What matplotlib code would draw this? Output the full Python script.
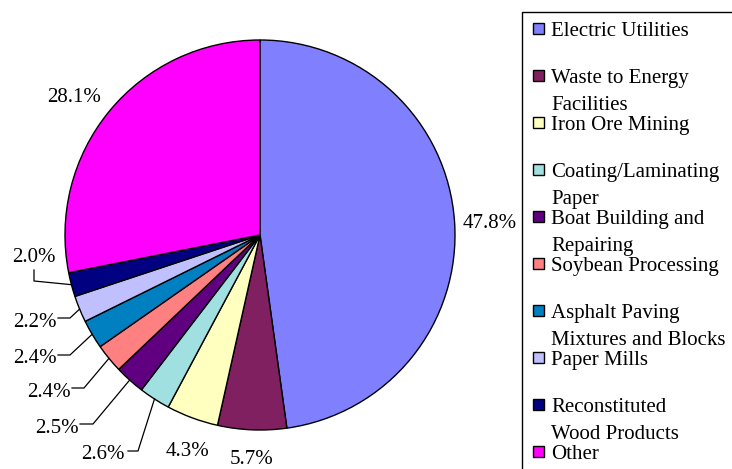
import numpy as np
import matplotlib
matplotlib.use("Agg")
import matplotlib.pyplot as plt
from matplotlib.patches import Rectangle

plt.rcParams['font.family'] = ['Liberation Serif', 'DejaVu Serif']

categories = ["Electric Utilities", "Waste to Energy\nFacilities", "Iron Ore Mining",
              "Coating/Laminating\nPaper", "Boat Building and\nRepairing",
              "Soybean Processing", "Asphalt Paving\nMixtures and Blocks",
              "Paper Mills", "Reconstituted\nWood Products", "Other"]
shares = [47.8, 5.7, 4.3, 2.6, 2.5, 2.4, 2.4, 2.2, 2.0, 28.1]
colors = ["#8080FF", "#802060", "#FFFFC0", "#A0E0E0", "#600080",
          "#FF8080", "#0080C0", "#C0C0FF", "#000080", "#FF00FF"]

W, H = 732, 469
fig = plt.figure(figsize=(W / 100, H / 100), dpi=100)

# pie geometry in pixels (from top-left)
cx, cy, R = 260, 235, 195

def to_data(px, py):
    return ((px - cx) / R, (cy - py) / R)

ax = fig.add_axes([0, 0, 520 / W, 1])
ax.pie(shares, colors=colors, startangle=90, counterclock=False, radius=1,
       wedgeprops=dict(edgecolor="black", linewidth=1.0))
ax.set_aspect("auto")
ax.set_xlim(-cx / R, (520 - cx) / R)
ax.set_ylim(-(H - cy) / R, cy / R)
ax.axis("off")

# label placement: text centre x / baseline y in pixels, optional leader elbow points
label_pos = [
    (490, 228, None),
    (252, 464, None),
    (188, 456, None),
    (103, 459, [(128, 451), (138, 451)]),
    (57, 433, [(80, 424), (93, 424)]),
    (49, 397, [(72, 388), (84, 388)]),
    (35, 363, [(58, 355), (70, 355)]),
    (35, 327, [(58, 318), (70, 318)]),
    (34, 262, [(34, 270), (34, 281)]),
    (74, 102, None),
]

total = sum(shares)
cum = 0.0
for val, (tx, ty, elbow) in zip(shares, label_pos):
    mid = cum + val / 2
    cum += val
    ang = np.deg2rad(90 - 360 * mid / total)
    ex, ey = np.cos(ang), np.sin(ang)
    x, y = to_data(tx, ty)
    ax.text(x, y, f"{val:.1f}%", ha="center", va="baseline", fontsize=15)
    if elbow:
        pts = [to_data(*p) for p in elbow] + [(ex, ey)]
        ax.plot([p[0] for p in pts], [p[1] for p in pts], color="black", lw=0.9)

# legend drawn in pixel space; only its top and left frame edges fall inside the figure
lax = fig.add_axes([0, 0, 1, 1])
lax.set_xlim(0, W)
lax.set_ylim(H, 0)
lax.axis("off")
lax.plot([522, 522, W], [H, 12, 12], color="black", lw=1.0, solid_joinstyle="miter")
for i, (name, col) in enumerate(zip(categories, colors)):
    base = 36 + 47 * i
    lax.add_patch(Rectangle((533, base - 13), 11, 11, facecolor=col, edgecolor="black", lw=1.0))
    for j, line in enumerate(name.split("\n")):
        lax.text(551, base + 27 * j, line, ha="left", va="baseline", fontsize=15)

fig.savefig("out.png", dpi=100)
